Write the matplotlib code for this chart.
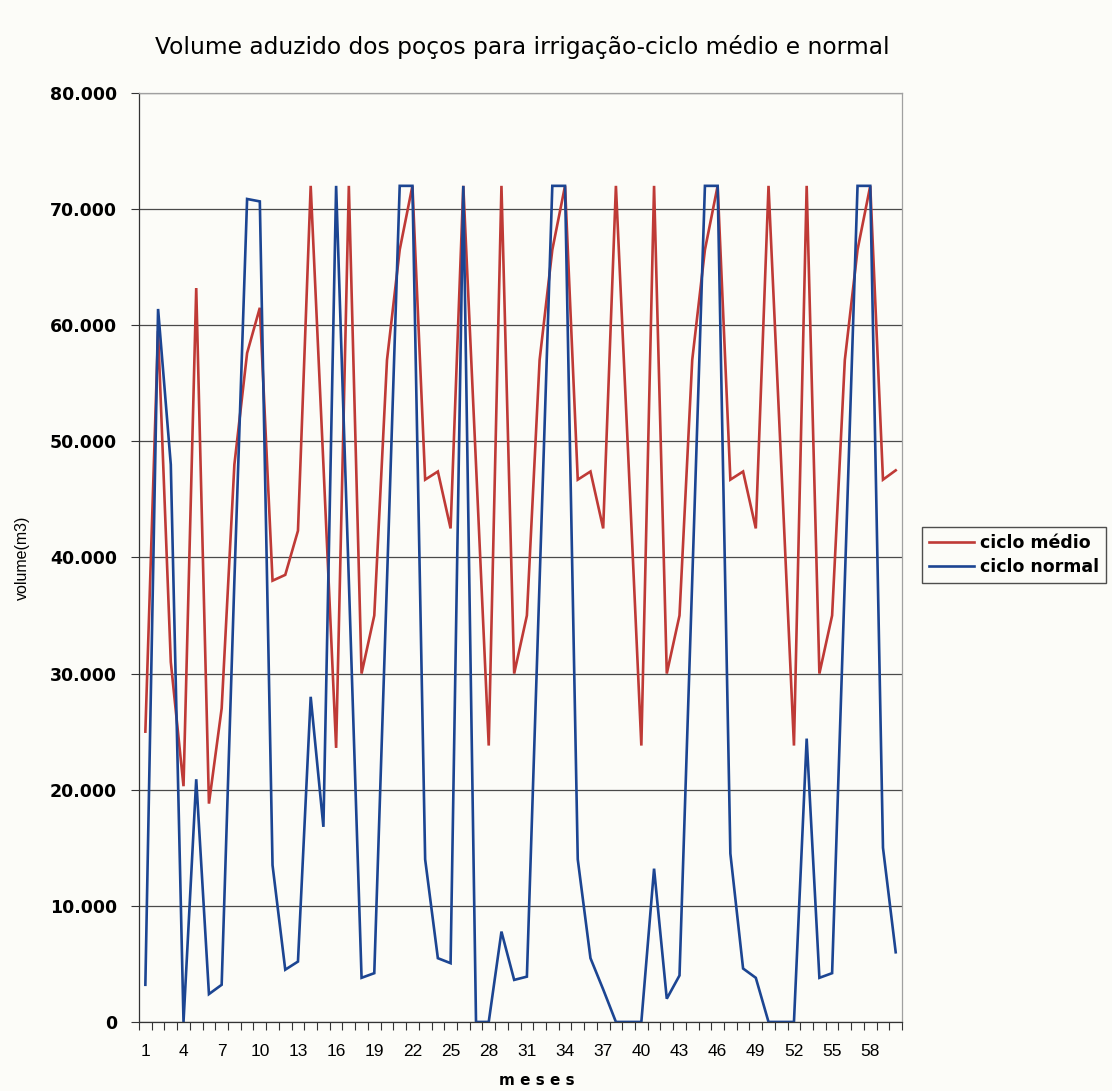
import numpy as np
import matplotlib
matplotlib.use("Agg")
import matplotlib.pyplot as plt
from matplotlib.ticker import FuncFormatter

# meses 1..60
meses = np.arange(1, 61)

ciclo_medio = [
    25000, 59500, 31000, 20300, 63200, 18800, 27000, 48000, 57600, 61500,
    38000, 38500, 42300, 72000, 48000, 23600, 72000, 30000, 35000, 57000,
    66500, 72000, 46700, 47400, 42500, 72000, 48000, 23800, 72000, 30000,
    35000, 57000, 66500, 72000, 46700, 47400, 42500, 72000, 48000, 23800,
    72000, 30000, 35000, 57000, 66500, 72000, 46700, 47400, 42500, 72000,
    48000, 23800, 72000, 30000, 35000, 57000, 66500, 72000, 46700, 47500,
]

ciclo_normal = [
    3200, 61400, 48000, 0, 20900, 2400, 3200, 38000, 70870, 70660,
    13500, 4500, 5200, 28000, 16800, 72000, 38000, 3800, 4200, 38000,
    72000, 72000, 14000, 5490, 5060, 72000, 0, 0, 7780, 3620,
    3900, 38000, 72000, 72000, 14000, 5490, 2800, 0, 0, 0,
    13200, 2000, 4000, 38000, 72000, 72000, 14500, 4600, 3800, 0,
    0, 0, 24400, 3800, 4200, 38000, 72000, 72000, 15000, 6000,
]

rotulos_x = np.arange(1, 59, 3)
yticks = np.arange(0, 80001, 10000)

fundo = '#fcfcf8'
fig = plt.figure(figsize=(11.12, 10.91), dpi=100, facecolor=fundo)
ax = fig.add_axes([0.1250, 0.0633, 0.6862, 0.8515], facecolor=fundo)

l1, = ax.plot(meses, ciclo_medio, color='#bf3a36', lw=1.9, label='ciclo médio',
              solid_joinstyle='miter')
l2, = ax.plot(meses, ciclo_normal, color='#1c4592', lw=1.9, label='ciclo normal',
              solid_joinstyle='miter')

ax.set_xlim(0.5, 60.5)
ax.set_ylim(0, 80000)

ax.set_yticks(yticks)
ax.yaxis.set_major_formatter(FuncFormatter(
    lambda v, p: '0' if v == 0 else f'{int(v):,}'.replace(',', '.')))
for t in ax.get_yticklabels():
    t.set_fontfamily('DejaVu Sans')
    t.set_fontweight('bold')
    t.set_fontsize(12.5)
ax.tick_params(axis='y', direction='out', length=6, width=0.8, color='#333333', pad=10)

ax.set_xticks(rotulos_x)
ax.set_xticklabels([str(v) for v in rotulos_x], fontfamily='Liberation Sans', fontsize=12.5)
ax.set_xticks(np.arange(0.5, 61, 1), minor=True)
ax.tick_params(axis='x', which='major', length=0, pad=16)
ax.tick_params(axis='x', which='minor', direction='out', length=6, width=0.8, color='#333333')

ax.grid(axis='y', color='#4a4a4a', lw=0.9)
ax.set_axisbelow(True)
for s in ['top', 'right']:
    ax.spines[s].set_color('#a0a0a0')
    ax.spines[s].set_linewidth(0.9)
for s in ['left', 'bottom']:
    ax.spines[s].set_color('#333333')
    ax.spines[s].set_linewidth(0.9)

fig.text(0.483, 0.010, 'm e s e s', ha='center', va='center',
         fontfamily='DejaVu Sans', fontweight='bold', fontsize=11)
fig.text(0.02, 0.489, 'volume(m3)', rotation=90, ha='center', va='center',
         fontfamily='Liberation Sans', fontsize=11.5)

fig.text(0.47, 0.957, 'Volume aduzido dos poços para irrigação-ciclo médio e normal',
         ha='center', va='center', fontfamily='DejaVu Sans', fontsize=16.8)

leg = fig.legend(handles=[l1, l2], loc='upper left', bbox_to_anchor=(0.829, 0.517),
                 borderaxespad=0, frameon=True, fancybox=False, edgecolor='#222222',
                 facecolor=fundo, handlelength=2.6, handletextpad=0.35, borderpad=0.4,
                 labelspacing=0.35,
                 prop={'family': 'DejaVu Sans', 'weight': 'bold', 'size': 12.5})
leg.get_frame().set_linewidth(1.0)

fig.savefig('out.png', dpi=100, facecolor=fundo)
